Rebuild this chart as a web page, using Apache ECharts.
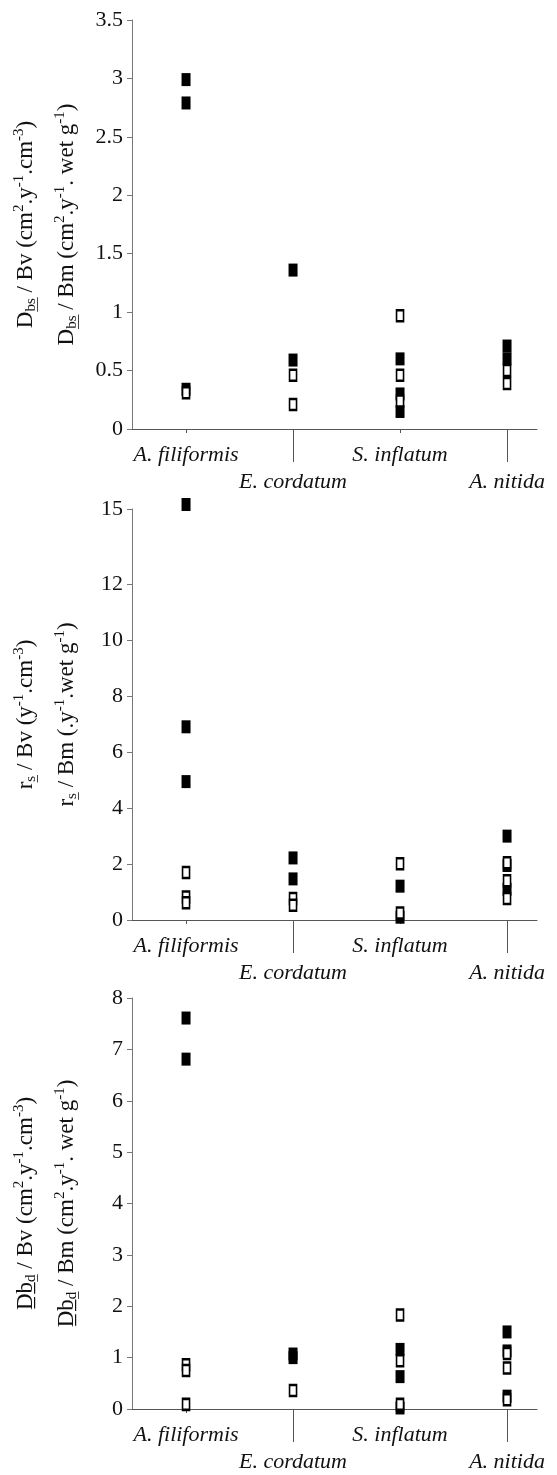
<!DOCTYPE html>
<html><head><meta charset="utf-8">
<script src="https://cdn.jsdelivr.net/npm/echarts@6/dist/echarts.min.js"></script>
<style>html,body{margin:0;padding:0;background:#fff}#c{width:557px;height:1475px}</style>
</head><body><div id="c"></div>
<script>
// ---------- data ----------
const categories = ['A. filiformis', 'E. cordatum', 'S. inflatum', 'A. nitida'];

// Panel 1: Dbs
const dbsFilled = [[2.99, 2.79, 0.34], [1.36, 0.59], [0.60, 0.30, 0.15], [0.71, 0.60]];
const dbsOpen = [[0.31], [0.46, 0.21], [0.97, 0.46, 0.24], [0.50, 0.39]];
const dbsTickValues = [0, 0.5, 1, 1.5, 2, 2.5, 3, 3.5];
const dbsTickLabels = ['0', '0.5', '1', '1.5', '2', '2.5', '3', '3.5'];

// Panel 2: rs
const rsFilled = [[14.86, 6.91, 4.95], [2.22, 1.47], [1.21, 0.10], [3.00, 1.95, 1.10]];
const rsOpen = [[1.70, 0.82, 0.62], [0.77, 0.53], [2.01, 0.25], [2.05, 1.40, 0.77]];
const rsTickValues = [0, 2, 4, 6, 8, 10, 12, 14.7];
const rsTickLabels = ['0', '2', '4', '6', '8', '10', '12', '15'];

// Panel 3: Dbd
const dbdFilled = [[7.61, 6.81], [1.07, 1.00], [1.16, 0.63, 0.02], [1.50, 1.13, 0.25]];
const dbdOpen = [[0.86, 0.75, 0.09], [0.36], [1.83, 0.94, 0.09], [1.08, 0.80, 0.18]];
const dbdTickValues = [0, 1, 2, 3, 4, 5, 6, 7, 8];
const dbdTickLabels = ['0', '1', '2', '3', '4', '5', '6', '7', '8'];

// axis titles (rich text)
const titles = [
  ['{t|D}{sub|b\u0332s\u0332}{t| / Bv (cm}{sup|2}{t|.y}{sup|-1}{t|.cm}{sup|-3}{t|)}',
   '{t|D}{sub|b\u0332s\u0332}{t| / Bm (cm}{sup|2}{t|.y}{sup|-1}{t|. wet g}{sup|-1}{t|)}'],
  ['{t|r}{sub|s\u0332}{t| / Bv (y}{sup|-1}{t|.cm}{sup|-3}{t|)}',
   '{t|r}{sub|s\u0332}{t| / Bm (.y}{sup|-1}{t|.wet g}{sup|-1}{t|)}'],
  ['{t|D\u0332b\u0332}{sub|d\u0332}{t| / Bv (cm}{sup|2}{t|.y}{sup|-1}{t|.cm}{sup|-3}{t|)}',
   '{t|D\u0332b\u0332}{sub|d\u0332}{t| / Bm (cm}{sup|2}{t|.y}{sup|-1}{t|. wet g}{sup|-1}{t|)}']
];

// ---------- build ----------
const FONT = 'Liberation Serif';
const panels = [
  { filled: dbsFilled, open: dbsOpen, ticks: dbsTickValues, labels: dbsTickLabels, max: 3.5, top: 20, height: 409 },
  { filled: rsFilled, open: rsOpen, ticks: rsTickValues, labels: rsTickLabels, max: 14.7, top: 509, height: 411 },
  { filled: dbdFilled, open: dbdOpen, ticks: dbdTickValues, labels: dbdTickLabels, max: 8, top: 998, height: 411 }
];
const toPoints = (groups) => groups.flatMap((vals, i) => vals.map(v => [i + 1, v]));

const rich = {
  t: { fontFamily: FONT, fontSize: 23, lineHeight: 27, color: '#111' },
  sub: { fontFamily: FONT, fontSize: 15, lineHeight: 15, verticalAlign: 'bottom', color: '#111' },
  sup: { fontFamily: FONT, fontSize: 15, lineHeight: 15, verticalAlign: 'top', color: '#111' }
};

const grid = [], xAxis = [], yAxis = [], series = [];
panels.forEach((p, k) => {
  grid.push({ left: 132, top: p.top, width: 405, height: p.height });
  const xBase = {
    type: 'value', gridIndex: k, min: 0.495, max: 4.28, position: 'bottom',
    splitLine: { show: false }
  };
  const xLabelStyle = { fontFamily: FONT, fontStyle: 'italic', fontSize: 22, color: '#111' };
  xAxis.push(Object.assign({}, xBase, {
    axisLine: { show: true, onZero: false, lineStyle: { color: '#555', width: 1 } },
    axisTick: { show: true, customValues: [1, 3], length: 4, lineStyle: { color: '#555' } },
    axisLabel: Object.assign({ customValues: [1, 3], margin: 15, formatter: v => categories[Math.round(v) - 1] }, xLabelStyle)
  }));
  xAxis.push(Object.assign({}, xBase, {
    axisLine: { show: false, onZero: false },
    axisTick: { show: true, customValues: [2, 4], length: 33, lineStyle: { color: '#555' } },
    axisLabel: Object.assign({ customValues: [2, 4], margin: 42, formatter: v => categories[Math.round(v) - 1] }, xLabelStyle)
  }));
  yAxis.push({
    type: 'value', gridIndex: k, min: 0, max: p.max, position: 'left',
    splitLine: { show: false },
    axisLine: { show: true, onZero: false, lineStyle: { color: '#777', width: 1 } },
    axisTick: { show: true, customValues: p.ticks, length: 5, lineStyle: { color: '#777' } },
    axisLabel: {
      customValues: p.ticks, margin: 9, fontFamily: FONT, fontSize: 22, color: '#111',
      formatter: v => { const i = p.ticks.findIndex(t => Math.abs(t - v) < 1e-6); return i >= 0 ? p.labels[i] : ''; }
    },
    name: titles[k][1], nameLocation: 'middle', nameRotate: 90, nameGap: 52,
    nameTextStyle: { fontFamily: FONT, fontSize: 23, lineHeight: 27, color: '#111', rich: rich }
  });
  yAxis.push({
    type: 'value', gridIndex: k, min: 0, max: 1, position: 'left', offset: 0,
    splitLine: { show: false }, axisLine: { show: false }, axisTick: { show: false }, axisLabel: { show: false },
    name: titles[k][0], nameLocation: 'middle', nameRotate: 90, nameGap: 93,
    nameTextStyle: { fontFamily: FONT, fontSize: 23, lineHeight: 27, color: '#111', rich: rich }
  });
  series.push({
    type: 'scatter', xAxisIndex: 2 * k, yAxisIndex: 2 * k, clip: false,
    symbol: 'rect', symbolSize: [9, 13],
    itemStyle: { color: '#000', opacity: 1 },
    data: toPoints(p.filled), z: 2
  });
  series.push({
    type: 'scatter', xAxisIndex: 2 * k, yAxisIndex: 2 * k, clip: false,
    symbol: 'rect', symbolSize: [7, 11],
    itemStyle: { color: '#fff', borderColor: '#000', borderWidth: 2, opacity: 1 },
    data: toPoints(p.open), z: 3
  });
});

const chart = echarts.init(document.getElementById('c'), null, { renderer: 'canvas' });
chart.setOption({ animation: false, backgroundColor: '#fff', grid, xAxis, yAxis, series });
</script></body></html>
